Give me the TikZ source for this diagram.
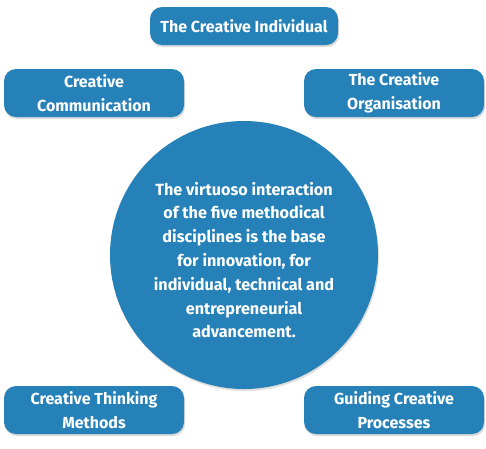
\documentclass[tikz,border=0pt]{standalone}
\usepackage{fontspec}
\setmainfont{Fira Sans}
\usetikzlibrary{shadows}
\definecolor{discblue}{RGB}{37,129,184}
\tikzset{
  discbox/.style={fill=discblue, text=white, rounded corners=12pt, align=center,
    minimum width=180pt, minimum height=48pt, inner sep=1pt,
    font=\bfseries\fontsize{16}{23.5}\selectfont,
    drop shadow={opacity=0.3, shadow xshift=1pt, shadow yshift=-2pt}},
  hubdisc/.style={circle, fill=discblue, minimum size=268pt,
    drop shadow={opacity=0.25, shadow xshift=1pt, shadow yshift=-2pt}},
  hubtext/.style={text=white, align=center, font=\bfseries\fontsize{16.2}{23.8}\selectfont}
}
\begin{document}
\begin{tikzpicture}[x=1pt,y=-1pt]
\useasboundingbox (0,0) rectangle (486,448);
% centre disc
\node[hubdisc] (hub) at (244,255) {};
\node[hubtext] (hubmsg) at (244,260) {The virtuoso interaction\\of the five methodical\\disciplines is the base\\for innovation, for\\individual, technical and\\entrepreneurial\\advancement.};
% the five disciplines
\node[discbox, minimum width=188pt, minimum height=38pt] (indiv) at (244,26) {The Creative Individual};
\node[discbox] (comm) at (94,93) {Creative\\Communication};
\node[discbox] (orga) at (394,93) {The Creative\\Organisation};
\node[discbox] (think) at (94,410) {Creative Thinking\\Methods};
\node[discbox] (guide) at (394,410) {Guiding Creative\\Processes};
\end{tikzpicture}
\end{document}
